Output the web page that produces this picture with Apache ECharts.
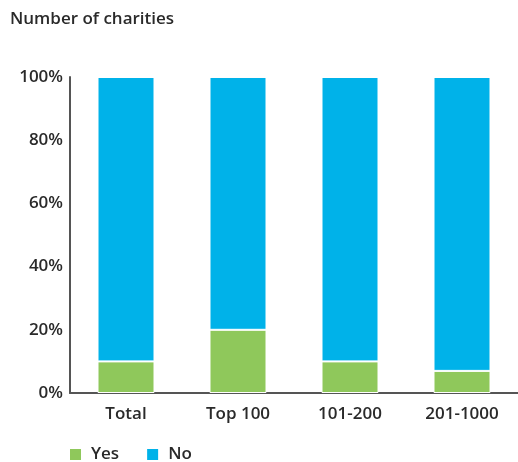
<!DOCTYPE html>
<html>
<head>
<meta charset="utf-8">
<script src="https://cdn.jsdelivr.net/npm/echarts@6/dist/echarts.min.js"></script>
<style>
  html, body { margin: 0; padding: 0; background: #fff; }
  #chart { width: 518px; height: 462px; }
</style>
</head>
<body>
<div id="chart"></div>
<script>
// Share of charities by size band (percent)
const categories = ['Total', 'Top 100', '101-200', '201-1000'];
const yesValues = [10, 20, 10, 7];
const noValues = [90, 80, 90, 93];
const yTicks = [0, 20, 40, 60, 80, 100];

const FONT = '"Open Sans", "Noto Sans", sans-serif';
const WEIGHT = 600;
const TEXT = '#2a2a2a';
const GREEN = '#8FC85B';
const BLUE = '#00B2E9';

const chart = echarts.init(document.getElementById('chart'));
chart.setOption({
  animation: false,
  textStyle: { fontFamily: FONT },
  title: {
    text: 'Number of charities',
    left: 5, top: 6,
    textStyle: { fontFamily: FONT, fontSize: 17, fontWeight: WEIGHT, color: TEXT }
  },
  legend: {
    data: ['Yes', 'No'],
    left: 63, top: 441,
    itemWidth: 13, itemHeight: 13, itemGap: 26,
    icon: 'rect',
    textStyle: { fontFamily: FONT, fontSize: 17, fontWeight: WEIGHT, color: TEXT, padding: [0, 0, 0, 4] }
  },
  grid: { left: 70, right: -2, top: 77, bottom: 69, containLabel: false },
  xAxis: {
    type: 'category',
    data: categories,
    axisLine: { lineStyle: { color: '#555', width: 2 } },
    axisTick: { show: false },
    axisLabel: { fontFamily: FONT, fontSize: 17, fontWeight: WEIGHT, color: TEXT, margin: 13 }
  },
  yAxis: {
    type: 'value',
    min: yTicks[0], max: yTicks[yTicks.length - 1], interval: 20,
    axisLine: { show: true, lineStyle: { color: '#555', width: 2 } },
    axisTick: { show: false },
    splitLine: { show: false },
    axisLabel: { fontFamily: FONT, fontSize: 17, fontWeight: WEIGHT, color: TEXT, margin: 7, formatter: '{value}%' }
  },
  series: [
    {
      name: 'Yes', type: 'bar', stack: 'share', data: yesValues, barWidth: 57,
      itemStyle: { color: GREEN, borderColor: '#fff', borderWidth: 1 }
    },
    {
      name: 'No', type: 'bar', stack: 'share', data: noValues, barWidth: 57,
      itemStyle: { color: BLUE, borderColor: '#fff', borderWidth: 1 }
    }
  ]
});
</script>
</body>
</html>
